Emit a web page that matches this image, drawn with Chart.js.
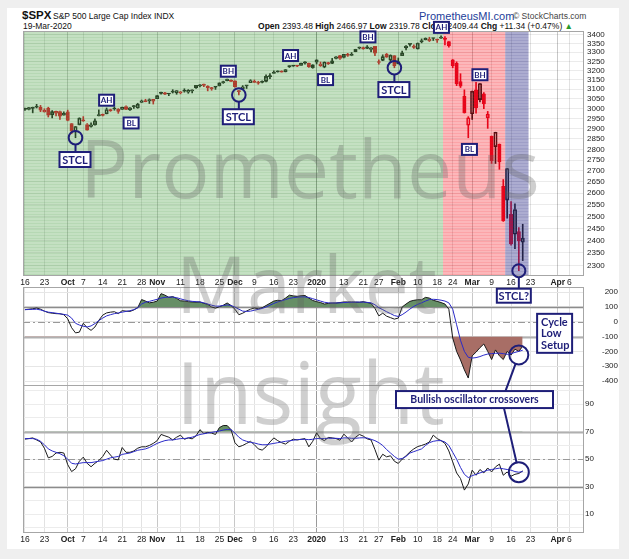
<!DOCTYPE html>
<html>
<head>
<meta charset="utf-8">
<script src="https://cdn.jsdelivr.net/npm/chart.js@4.4.1/dist/chart.umd.min.js"></script>
<style>
  html, body { margin: 0; padding: 0; width: 629px; height: 559px; overflow: hidden; background: #efefef; }
  #card { position: absolute; left: 7px; top: 8px; width: 612px; height: 541px; background: #fff; }
  canvas { position: absolute; }
  .t { position: absolute; white-space: nowrap; font-family: "Liberation Sans", Arial, sans-serif; line-height: 1; color: #111; }
</style>
</head>
<body>
<div id="card"></div>
<div class="t" style="left:22px;top:10px;font-size:11.5px;font-weight:bold">$SPX</div>
<div class="t" style="left:53px;top:12px;font-size:8.5px">S&amp;P 500 Large Cap Index INDX</div>
<div class="t" style="left:23px;top:22px;font-size:8.5px">19-Mar-2020</div>
<div class="t" style="left:419px;top:11px;font-size:11px;color:#23409a">PrometheusMI.com</div>
<div class="t" style="left:513px;top:12px;font-size:8.5px;color:#444">© StockCharts.com</div>
<div class="t" id="quote" style="right:56px;top:22px;font-size:8.5px"></div>

<canvas id="cB" width="610" height="120" style="left:8px;top:280px;width:610px;height:120px"></canvas>
<canvas id="cC" width="610" height="208" style="left:8px;top:340px;width:610px;height:208px"></canvas>
<canvas id="cA" width="610" height="300" style="left:8px;top:8px;width:610px;height:300px"></canvas>
<canvas id="ov" style="left:0;top:0;width:629px;height:559px"></canvas>

<script>
// ---- calendar ----
const DATA_START = '2019-09-16';
const AXIS_END = '2020-04-09';
const HOLIDAYS = ['2019-11-28', '2019-12-25', '2020-01-01', '2020-01-20', '2020-02-17'];

const TICK_DATES = ['2019-09-16','2019-09-23','2019-10-01','2019-10-07','2019-10-14','2019-10-21','2019-10-28',
  '2019-11-01','2019-11-11','2019-11-18','2019-11-25','2019-12-02','2019-12-09','2019-12-16','2019-12-23',
  '2020-01-02','2020-01-13','2020-01-21','2020-01-27','2020-02-03','2020-02-10','2020-02-18','2020-02-24',
  '2020-03-02','2020-03-09','2020-03-16','2020-03-23','2020-04-01','2020-04-06'];
const TICK_TEXT = ['16','23','Oct','7','14','21','28','Nov','11','18','25','Dec','9','16','23',
  '2020','13','21','27','Feb','10','18','24','Mar','9','16','23','Apr','6'];
const PRICE_TICKS = [2300,2350,2400,2450,2500,2550,2600,2650,2700,2750,2800,2850,2900,2950,3000,
  3050,3100,3150,3200,3250,3300,3350,3400];
const CCI_TICKS = [-400,-300,-200,-100,0,100,200];
const RSI_TICKS = [0,10,20,30,40,50,60,70,80,90,100];

// ---- $SPX daily candles ----
const OPEN = [
  2996.4,2995.7,3001.5,3010.4,3008.4,2983.5,3002.4,2968.4,2985.7,2985.5,2967.1,
  2983.7,2924.8,2885.4,2918.6,2944.2,2920.4,2911.1,2918.6,2963.1,2965.8,2973.6,2989.7,3000.8,2996.8,2996.5,3010.7,2994.0,3014.8,3003.3,3032.1,3035.4,3039.7,3046.9,
  3050.7,3078.9,3080.8,3075.1,3087.0,3081.2,3080.3,3089.3,3084.2,3090.8,3107.9,3117.9,3127.5,3114.7,3108.5,3111.4,3117.4,3134.9,3145.5,3147.2,
  3143.9,3087.4,3103.5,3119.2,3134.6,3141.9,3135.4,3135.8,3141.2,3166.7,3183.6,3195.4,3195.2,3192.3,3223.3,3226.1,3225.5,3227.2,3247.2,3240.1,3215.2,
  3244.7,3226.4,3217.6,3241.9,3238.6,3266.0,3281.0,3271.1,3285.4,3282.3,3303.0,3323.7,3321.0,3330.0,3315.8,3333.1,3247.2,3255.4,3289.5,3256.5,3282.3,
  3235.7,3280.6,3324.9,3344.9,3335.5,3318.3,3365.9,3370.5,3365.9,3378.1,3369.0,3380.4,3380.5,3360.5,3257.6,3238.9,3139.9,3062.5,2916.9,
  2974.3,3096.5,3045.8,3075.7,2954.2,2863.9,2813.5,2825.6,2630.9,2570.0,2508.6,2425.7,2436.5,2393.48];
const HIGH = [
  3002.2,3006.2,3007.8,3021.9,3016.4,2999.2,3007.3,2989.8,2987.3,2987.3,2983.8,
  2992.5,2924.8,2911.1,2953.7,2959.8,2925.5,2929.3,2948.5,2993.3,2972.8,3003.3,2997.5,3008.3,3000.0,3007.3,3014.6,3004.8,3016.1,3027.4,3044.1,3047.9,3050.1,3046.9,
  3066.9,3085.2,3083.9,3078.3,3097.8,3093.1,3088.3,3102.6,3098.1,3097.0,3120.5,3124.2,3127.6,3119.0,3110.1,3112.9,3133.8,3142.7,3154.3,3150.3,
  3144.3,3094.1,3119.4,3119.5,3150.6,3148.9,3142.1,3144.0,3176.3,3182.7,3197.7,3198.2,3198.5,3205.5,3225.7,3227.8,3226.4,3240.1,3247.9,3240.9,3231.7,
  3258.1,3246.2,3246.8,3244.9,3267.1,3275.6,3283.0,3288.1,3294.2,3298.7,3317.1,3329.9,3329.8,3337.8,3326.9,3333.2,3258.8,3285.8,3293.5,3285.9,3282.3,
  3268.4,3306.9,3337.6,3348.0,3341.4,3352.3,3375.6,3381.5,3385.1,3380.7,3375.0,3393.5,3389.2,3360.8,3259.8,3247.0,3182.5,3097.1,2959.7,
  3091.0,3136.7,3131.0,3083.0,2985.9,2863.9,2882.6,2825.6,2661.0,2711.3,2563.0,2553.9,2453.6,2466.97];
const LOW = [
  2990.7,2993.7,2978.6,3003.2,2984.7,2982.2,2957.7,2952.9,2963.7,2945.5,2967.1,
  2938.7,2874.9,2855.9,2918.6,2935.7,2892.7,2907.4,2917.1,2963.1,2962.9,2973.6,2986.2,2991.8,2976.3,2995.4,2995.0,2991.2,3000.4,3001.9,3032.1,3034.8,3025.9,3023.2,
  3050.7,3074.9,3072.2,3065.9,3080.2,3073.6,3075.8,3084.7,3078.8,3080.3,3104.6,3112.1,3113.5,3091.4,3094.6,3099.3,3117.4,3131.0,3143.4,3139.3,
  3110.8,3070.3,3102.5,3103.8,3134.6,3135.5,3126.1,3133.2,3138.5,3156.5,3183.6,3191.0,3191.1,3192.3,3216.0,3222.3,3220.5,3227.2,3234.4,3216.6,3212.0,
  3235.5,3222.3,3214.6,3232.4,3236.7,3263.7,3260.9,3268.4,3277.2,3280.7,3302.8,3318.9,3316.6,3320.0,3301.9,3281.5,3234.5,3253.2,3271.9,3242.8,3214.7,
  3235.7,3280.6,3313.8,3334.4,3322.1,3317.8,3352.7,3369.7,3360.5,3366.2,3355.6,3378.8,3341.0,3328.5,3214.7,3118.8,3109.0,2977.4,2855.8,
  2945.2,2976.6,3034.4,2999.8,2901.5,2734.4,2734.0,2707.2,2478.9,2492.4,2380.9,2367.0,2280.5,2319.78];
const CLOSE = [
  2997.96,3005.70,3006.73,3006.79,2992.07,2991.78,2966.60,2984.87,2977.62,2961.79,2976.74,
  2940.25,2887.61,2910.63,2952.01,2938.79,2893.06,2919.40,2938.13,2970.27,2966.15,2995.68,2989.69,2997.95,2986.20,3006.72,2995.99,3004.52,3010.29,3022.55,3039.42,3036.89,3046.77,3037.56,
  3066.91,3078.27,3074.62,3076.78,3085.18,3093.08,3087.01,3091.84,3094.04,3096.63,3120.46,3122.03,3120.18,3108.46,3103.54,3110.29,3133.64,3140.52,3153.63,3140.98,
  3113.87,3093.20,3112.76,3117.43,3145.91,3135.96,3132.52,3141.63,3168.57,3168.80,3191.45,3192.52,3191.14,3205.37,3221.22,3224.01,3223.38,3239.91,3240.02,3221.29,3230.78,
  3257.85,3234.85,3246.28,3237.18,3253.05,3274.70,3265.35,3288.13,3283.15,3289.29,3316.81,3329.62,3320.79,3321.75,3325.54,3295.47,3243.63,3276.24,3273.40,3283.66,3225.52,
  3248.92,3297.59,3334.69,3345.78,3327.71,3352.09,3357.75,3379.45,3373.94,3380.16,3370.29,3386.15,3373.23,3337.75,3225.89,3128.21,3116.39,2978.76,2954.22,
  3090.23,3003.37,3130.12,3023.94,2972.37,2746.56,2882.23,2741.38,2480.64,2711.02,2386.13,2529.19,2398.10,2409.44];

// ---- oscillators ----
const CCI = [
  82,85,88,93,85,72,62,58,55,54,48,
  20,-40,-75,-70,-10,-40,-58,-35,10,45,60,65,68,55,75,72,70,80,95,150,140,128,132,
  140,190,180,165,170,158,142,140,136,134,132,134,125,118,100,92,102,112,127,110,
  85,48,58,73,85,93,88,95,110,125,140,145,143,160,180,175,172,176,178,160,144,
  136,130,120,124,127,127,130,134,134,134,133,132,136,130,125,90,40,58,38,28,18,
  25,100,120,138,145,149,149,165,160,145,138,130,120,85,-110,-200,-258,-325,-380,
  -230,-205,-175,-150,-200,-255,-190,-230,-255,-200,-225,-185,-200,-165];
const CCI_SIGNAL = [
  82,83,84,85,80,72,65,62,58,54,50,
  45,25,-10,-22,-30,-35,-28,-12,8,25,40,48,55,60,65,70,75,82,95,120,132,138,145,
  152,160,165,167,167,163,155,148,142,138,136,134,128,120,112,106,106,110,114,110,
  100,85,72,70,72,78,84,90,100,112,124,134,142,150,158,163,166,168,168,164,156,
  148,140,132,128,127,127,128,130,131,132,133,133,133,131,128,115,95,82,68,55,42,
  36,48,66,86,104,118,128,140,150,152,150,146,140,128,85,-20,-125,-200,-240,
  -245,-242,-235,-225,-218,-215,-213,-212,-215,-220,-215,-207,-200,-192];
const RSI = [
  64.6,65,65.5,64,62.6,58,51,52,54.5,55,54.5,
  46,41,43,48.5,51.5,47,44.5,47,49,52,56.5,53,50,49.5,58.5,55,55,56,58,59,59,60,61.5,
  63.5,68,67,66,64,66,67.5,64.5,65.5,64.8,67,71.5,68.7,69.5,69,68,73,74.5,74.5,71.5,
  62,59,60,61.5,63,60.5,57.5,56.6,59,62.5,65.5,63.5,62,61,63,64.6,64,64.5,65,59,63,
  69.2,65,63.5,65.8,65.5,65,63.8,68.2,65.5,62.5,66,68,66.8,64.8,64,57,49.3,53.6,51.7,52.5,48.5,
  46.9,50,52.5,55.3,57.5,59.2,60,61,62.5,67.5,65,63.5,61.5,56,48,40,35.9,27.5,32,
  42,38.3,42.5,40,43.6,40.7,44.4,46.4,38.3,40.7,37.6,39,39.6,41.5];
const RSI_SIGNAL = [
  65,65,65,64.5,63,60.5,57.5,56,55,54,52.5,
  50,47,46.5,47,47.5,47.5,47.5,48,48.5,49,50,51,51.5,52,53.5,54,54.5,55.5,56.5,57,57.5,58.5,60,
  61.5,62.6,63.5,64,64,64.5,65,65,65.5,66,67,68,68.5,69,69.5,70,70.5,71.2,71.7,71.5,
  69,66,64,63,62.2,61.8,61,60.5,60.5,61,61.5,62,62.5,63,63.4,63.8,64.2,64.4,64.5,64.2,64.5,
  65,65,65,65.2,65.2,65.2,65,65.5,65.5,65.2,65.2,65.5,65.6,65.4,64.5,63.5,62,60,57,54.5,52,
  50,50.5,52,54.5,55.5,56.5,57.5,60,62,63,63.5,63.5,62.5,60,55,50,44,39,36.6,
  38,39,40,41,42,42.5,43,43.5,43,42.5,42,41,40.5,41];

// ---- cycle phases (trading-day index bounds) ----
const PHASE_FROM = [-0.5, 107.5, 123.5];
const PHASE_TO = [107.5, 123.5, 129.5];

// ---- annotations ----
const SWING_TEXT = ['AH', 'BL', 'BH', 'AH', 'BL', 'BH', 'AH', 'BL', 'BH'];
const SWING_IDX = [21, 27.3, 52.3, 68.3, 77.3, 88.2, 107.1, 114.3, 117];
const SWING_VAL = [3043, 2928, 3196, 3282, 3151, 3387, 3442, 2800, 3177];
const CYCLE_LOW_IDX = [13, 55, 95, 127];
const CYCLE_LOW_TEXT = ['STCL', 'STCL', 'STCL', 'STCL?'];

const NAVY = '#1e1e78';
const BLACK = '#111';
const RED = '#e0001b';
const PAD_LEFT = 15;

function tradingDays(from, to) {
  const out = [];
  const d = new Date(from + 'T12:00:00Z');
  const end = new Date(to + 'T12:00:00Z');
  while (d <= end) {
    const s = d.toISOString().slice(0, 10);
    const wd = d.getUTCDay();
    if (wd !== 0 && wd !== 6 && !HOLIDAYS.includes(s)) out.push(s);
    d.setUTCDate(d.getUTCDate() + 1);
  }
  return out;
}
const DATES = tradingDays(DATA_START, AXIS_END);
const TICK_IDX = TICK_DATES.map(d => DATES.indexOf(d));
const TICK_LABEL = {};
TICK_IDX.forEach((i, k) => { TICK_LABEL[i] = TICK_TEXT[k]; });
const MONTH_IDX = new Set(TICK_IDX.filter((i, k) => isNaN(+TICK_TEXT[k]) || TICK_TEXT[k] === '2020'));

// header quote from the last candle
(function () {
  const n = CLOSE.length - 1;
  const chg = CLOSE[n] - CLOSE[n - 1];
  const pct = chg / CLOSE[n - 1] * 100;
  document.getElementById('quote').innerHTML =
    `<b>Open</b> ${OPEN[n].toFixed(2)} <b>High</b> ${HIGH[n].toFixed(2)} <b>Low</b> ${LOW[n].toFixed(2)} ` +
    `<b>Close</b> ${CLOSE[n].toFixed(2)} <b>Chg</b> +${chg.toFixed(2)} (+${pct.toFixed(2)}%) <span style="color:#2a9a2a">&#9650;</span>`;
})();

Chart.defaults.font.family = '"Liberation Sans", Arial, sans-serif';
Chart.defaults.font.size = 8;
Chart.defaults.color = '#222';

function xScale(showLabels) {
  return {
    type: 'category',
    offset: true,
    border: { display: false },
    grid: {
      offset: false, drawTicks: false,
      color: c => (c.tick && TICK_LABEL[c.tick.value] === '2020') ? '#9a9a9a'
        : (c.tick && MONTH_IDX.has(c.tick.value)) ? '#c8c8c8' : '#e2e2e2'
    },
    ticks: {
      display: showLabels, autoSkip: false, maxRotation: 0, padding: 3, color: '#222',
      font: c => ({ size: 8.5, weight: (c.tick && MONTH_IDX.has(c.tick.value)) ? 'bold' : 'normal' }),
      callback: v => TICK_LABEL[v]
    },
    afterBuildTicks: s => { s.ticks = TICK_IDX.map(i => ({ value: i })); },
    afterFit: s => { s.height = showLabels ? 14 : 0; s.paddingLeft = 0; s.paddingRight = 0; }
  };
}

function yFit(s) { s.width = 35; s.paddingTop = 0; s.paddingBottom = 0; }

const frame = {
  id: 'frame',
  afterDraw(ch) {
    const a = ch.chartArea, g = ch.ctx;
    g.save(); g.strokeStyle = '#a6a6a6'; g.lineWidth = 1;
    g.strokeRect(Math.round(a.left) + 0.5, Math.round(a.top) + 0.5, Math.round(a.right - a.left), Math.round(a.bottom - a.top));
    g.restore();
  }
};

const refLines = {
  id: 'refLines',
  beforeDatasetsDraw(ch, args, opts) {
    const a = ch.chartArea, g = ch.ctx, y = ch.scales.y;
    g.save();
    (opts.lines || []).forEach(([v, color, w, dash]) => {
      const py = Math.round(y.getPixelForValue(v)) + 0.5;
      g.strokeStyle = color; g.lineWidth = w; g.setLineDash(dash || []);
      g.beginPath(); g.moveTo(a.left, py); g.lineTo(a.right, py); g.stroke();
    });
    g.restore();
  }
};

function stripes(g, r, gg, b, a) {
  const c = document.createElement('canvas');
  c.width = 4; c.height = 3;
  const x = c.getContext('2d');
  x.fillStyle = `rgba(${r},${gg},${b},${a})`; x.fillRect(0, 0, 4, 3);
  x.fillStyle = `rgba(${r},${gg},${b},0.12)`; x.fillRect(0, 2, 4, 1);
  return g.createPattern(c, 'repeat');
}

const phases = {
  id: 'phases',
  afterDatasetsDraw(ch) {
    const a = ch.chartArea, g = ch.ctx, x = ch.scales.x;
    const fills = [stripes(g, 86, 166, 81, 0.35), stripes(g, 245, 18, 25, 0.3), stripes(g, 57, 57, 143, 0.42)];
    g.save();
    PHASE_FROM.forEach((f, k) => {
      const x0 = Math.max(a.left, x.getPixelForValue(f));
      const x1 = x.getPixelForValue(PHASE_TO[k]);
      g.fillStyle = fills[k];
      g.fillRect(x0, a.top, x1 - x0, a.bottom - a.top);
    });
    g.restore();
  }
};

// ---- panel 1: candles ----
const candleColor = CLOSE.map((c, i) => c >= (i ? CLOSE[i - 1] : OPEN[i]) ? BLACK : RED);
const bodyFill = CLOSE.map((c, i) => c > OPEN[i] ? 'rgba(0,0,0,0)' : candleColor[i]);

const chartA = new Chart(document.getElementById('cA'), {
  type: 'bar',
  data: {
    labels: DATES,
    datasets: [
      { data: OPEN.map((o, i) => [o, CLOSE[i]]), backgroundColor: bodyFill, borderColor: candleColor,
        borderWidth: 1, borderSkipped: false, barThickness: 3.4, minBarLength: 1, grouped: false, order: 0 },
      { data: OPEN.map((o, i) => [Math.max(o, CLOSE[i]), HIGH[i]]), backgroundColor: candleColor,
        borderWidth: 0, barThickness: 1, grouped: false, order: 1 },
      { data: OPEN.map((o, i) => [LOW[i], Math.min(o, CLOSE[i])]), backgroundColor: candleColor,
        borderWidth: 0, barThickness: 1, grouped: false, order: 1 }
    ]
  },
  options: {
    responsive: false, animation: false, events: [],
    layout: { padding: { top: 23, bottom: 19, left: PAD_LEFT, right: 0 } },
    plugins: { legend: { display: false }, tooltip: { enabled: false } },
    scales: {
      x: xScale(true),
      y: {
        type: 'logarithmic', position: 'right', min: 2264, max: 3421,
        border: { display: false },
        grid: { color: 'rgba(0,0,0,0.08)', drawTicks: false },
        ticks: { padding: 4, autoSkip: false, callback: v => String(v) },
        afterBuildTicks: s => { s.ticks = PRICE_TICKS.map(v => ({ value: v })); },
        afterFit: yFit
      }
    }
  },
  plugins: [phases, frame]
});

// ---- panel 2: CCI ----
const chartB = new Chart(document.getElementById('cB'), {
  type: 'line',
  data: {
    labels: DATES,
    datasets: [
      { data: CCI_SIGNAL, borderColor: '#2a2ac8', borderWidth: 1, pointRadius: 0, fill: false, order: 0 },
      { data: CCI, borderColor: '#1a1a1a', borderWidth: 1, pointRadius: 0, order: 1,
        fill: { target: { value: 100 }, above: '#668f66', below: 'rgba(0,0,0,0)' } },
      { data: CCI, borderWidth: 0, borderColor: 'rgba(0,0,0,0)', pointRadius: 0, order: 2,
        fill: { target: { value: -100 }, above: 'rgba(0,0,0,0)', below: '#a86e66' } }
    ]
  },
  options: {
    responsive: false, animation: false, events: [],
    layout: { padding: { top: 7, bottom: 15, left: PAD_LEFT, right: 0 } },
    plugins: {
      legend: { display: false }, tooltip: { enabled: false },
      refLines: { lines: [[100, '#8c8c8c', 1.5], [0, '#999', 1, [7, 3, 2, 3]], [-100, '#b0b0b0', 2]] }
    },
    scales: {
      x: xScale(false),
      y: {
        position: 'right', min: -427, max: 235,
        border: { display: false },
        grid: { color: '#e6e6e6', drawTicks: false },
        ticks: { padding: 4, autoSkip: false, crossAlign: 'far', callback: v => String(v) },
        afterBuildTicks: s => { s.ticks = CCI_TICKS.map(v => ({ value: v })); },
        afterFit: yFit
      }
    }
  },
  plugins: [refLines, frame]
});

// ---- panel 3: RSI ----
const chartC = new Chart(document.getElementById('cC'), {
  type: 'line',
  data: {
    labels: DATES,
    datasets: [
      { data: RSI_SIGNAL, borderColor: '#2a2ac8', borderWidth: 1, pointRadius: 0, fill: false, order: 0 },
      { data: RSI, borderColor: '#1a1a1a', borderWidth: 1, pointRadius: 0, order: 1,
        fill: { target: { value: 70 }, above: '#668f66', below: 'rgba(0,0,0,0)' } }
    ]
  },
  options: {
    responsive: false, animation: false, events: [],
    layout: { padding: { top: 45, bottom: 2, left: PAD_LEFT, right: 0 } },
    plugins: {
      legend: { display: false }, tooltip: { enabled: false },
      refLines: { lines: [[70, '#b0b0b0', 2], [50, '#999', 1, [7, 3, 2, 3]], [30, '#8c8c8c', 1.5]] }
    },
    scales: {
      x: xScale(true),
      y: {
        position: 'right', min: -3, max: 104,
        border: { display: false },
        grid: { color: '#ececec', drawTicks: false },
        ticks: { padding: 2, autoSkip: false, callback: v => (v % 20 === 10 ? String(v) : '') },
        afterBuildTicks: s => { s.ticks = RSI_TICKS.map(v => ({ value: v })); },
        afterFit: yFit
      }
    }
  },
  plugins: [refLines, frame]
});

// ---- overlay: watermark + notes ----
function ring(g, p, r) {
  g.beginPath(); g.arc(p[0], p[1], r, 0, Math.PI * 2);
  g.lineWidth = 2; g.strokeStyle = NAVY; g.stroke();
}
function tag(g, cx, cy, w, h, lines, font, lh, left) {
  g.fillStyle = '#fff'; g.fillRect(cx - w / 2, cy - h / 2, w, h);
  g.lineWidth = 2; g.strokeStyle = NAVY; g.strokeRect(cx - w / 2, cy - h / 2, w, h);
  g.fillStyle = NAVY; g.font = font; g.textBaseline = 'middle';
  g.textAlign = left ? 'left' : 'center';
  const tx = left ? cx - w / 2 + 4 : cx;
  lines.forEach((t, k) => g.fillText(t, tx, cy + (k - (lines.length - 1) / 2) * lh + 0.5));
}
function seg(g, a, b) {
  g.beginPath(); g.moveTo(a[0], a[1]); g.lineTo(b[0], b[1]);
  g.lineWidth = 2; g.strokeStyle = NAVY; g.stroke();
}
function edge(c, r, toward) {
  const dx = toward[0] - c[0], dy = toward[1] - c[1], d = Math.hypot(dx, dy);
  return [c[0] + dx / d * r, c[1] + dy / d * r];
}

(function drawOverlay() {
  const cv = document.getElementById('ov');
  const dpr = window.devicePixelRatio || 1;
  cv.width = 629 * dpr; cv.height = 559 * dpr;
  const g = cv.getContext('2d');
  g.scale(dpr, dpr);
  const at = (ch, i, v) => [ch.canvas.offsetLeft + ch.scales.x.getPixelForValue(i),
                            ch.canvas.offsetTop + ch.scales.y.getPixelForValue(v)];

  // watermark
  g.fillStyle = 'rgba(95,95,95,0.3)';
  g.textAlign = 'left'; g.textBaseline = 'alphabetic';
  [['Prometheus', 80, 198, 460], ['Market', 176, 313, 261], ['Insight', 176, 424, 269]].forEach(([t, x, y, w]) => {
    g.font = '80px "Open Sans"';
    const m = g.measureText(t).width;
    g.font = (80 * w / m).toFixed(1) + 'px "Open Sans"';
    g.fillText(t, x, y);
  });

  // swing labels
  SWING_TEXT.forEach((t, k) => {
    const p = at(chartA, SWING_IDX[k], SWING_VAL[k]);
    tag(g, p[0], p[1], 15, 11, [t], 'bold 8px Lato', 0);
  });

  // short-term cycle lows
  CYCLE_LOW_IDX.forEach((i, k) => {
    const c = at(chartA, i, LOW[i]);
    const last = k === CYCLE_LOW_IDX.length - 1;
    const r = last ? 6.5 : 6.8, gap = last ? 11.5 : 7.5, w = last ? 34 : 31, h = last ? 14 : 15;
    const bx = c[0] + (last ? -5 : -0.5), by = c[1] + r + gap + h / 2;
    ring(g, c, r);
    seg(g, [c[0], c[1] + r], [c[0], by - h / 2]);
    tag(g, bx, by, w, h, [CYCLE_LOW_TEXT[k]], 'bold 11px Lato', 0);
  });

  // oscillator notes
  const cB = at(chartB, 127, -224);
  const cC = at(chartC, 127, 40.5);
  const v = at(chartC, 122.7, 93);
  ring(g, cB, 9.5);
  ring(g, cC, 10);
  seg(g, edge(cB, 9.5, v), v);
  seg(g, v, edge(cC, 10, v));
  const n1 = at(chartB, 136.2, -78);
  tag(g, n1[0], n1[1], 35, 39, ['Cycle', 'Low', 'Setup'], 'bold 11px Lato', 11.5, true);
  const n2 = at(chartC, 115.6, 93.4);
  tag(g, n2[0], n2[1], 157, 17, ['Bullish oscillator crossovers'], 'bold 10.5px Lato', 0);
})();
</script>
</body>
</html>
